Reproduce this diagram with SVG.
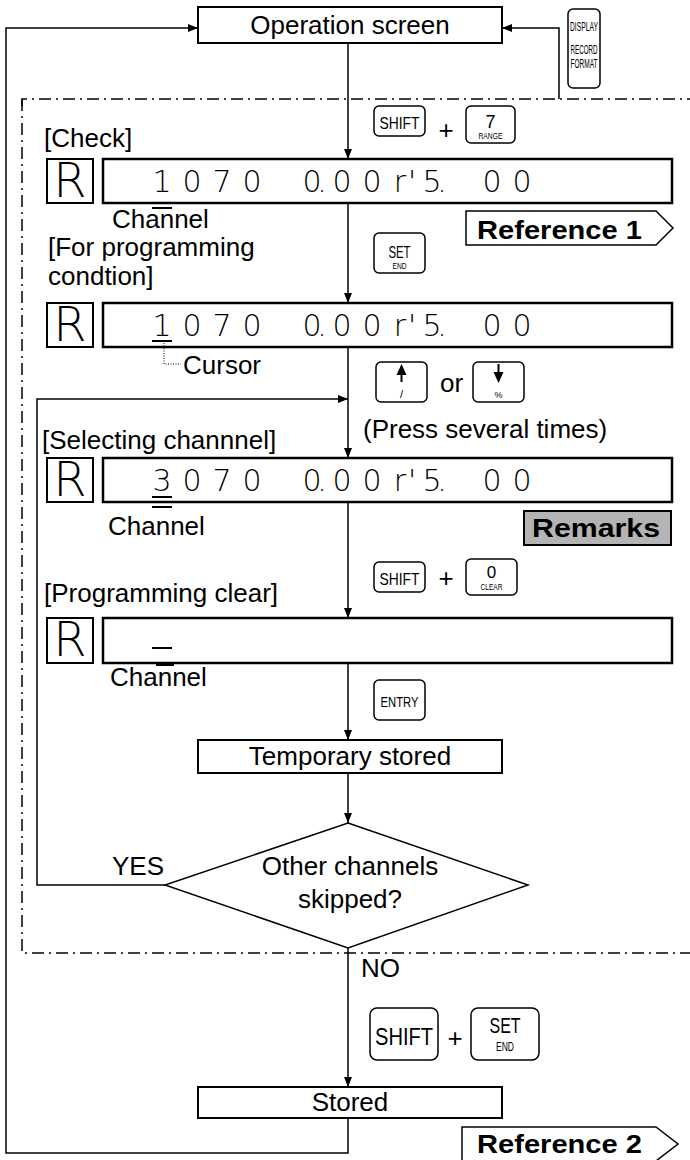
<svg xmlns="http://www.w3.org/2000/svg" width="690" height="1160" viewBox="0 0 690 1160">
<defs>
<marker id="ah" markerWidth="10" markerHeight="8" refX="10" refY="4" orient="auto" markerUnits="userSpaceOnUse"><path d="M0,0 L10,4 L0,8 z" fill="#000"/></marker>
<style>
.lbl{font-family:"Liberation Sans",Arial,sans-serif;font-size:26px;fill:#000}
.ctr{text-anchor:middle}
.box{fill:#fff;stroke:#000;stroke-width:2}
.disp{fill:#fff;stroke:#000;stroke-width:2.5}
.rbox{fill:#fff;stroke:#000;stroke-width:2}
.key{fill:#fff;stroke:#000;stroke-width:1.5}
.kt{font-family:"Liberation Sans",Arial,sans-serif;fill:#000;text-anchor:middle}
.seg{font-family:"DejaVu Sans",sans-serif;font-weight:200;font-size:30px;fill:#000;text-anchor:middle}
.rch{font-family:"DejaVu Sans",sans-serif;font-weight:200;font-size:48px;fill:#000;text-anchor:middle}
.ln{fill:none;stroke:#000;stroke-width:1.5}
.dd{fill:none;stroke:#000;stroke-width:1.5;stroke-dasharray:12 5 2 5}
.ref{fill:#fff;stroke:#000;stroke-width:1.5}
.bt{font-family:"Liberation Sans",Arial,sans-serif;font-weight:bold;font-size:25px;fill:#000}
.bar{stroke:#000;stroke-width:2}
.dot{fill:none;stroke:#000;stroke-width:1;stroke-dasharray:1 1.5}
</style>
</defs>
<rect width="690" height="1160" fill="#fff"/>

<g id="frame">
<path class="dd" d="M22,106 V99 H690"/>
<path class="dd" d="M22,99 V953 H690"/>
</g>

<g id="connectors">
<path class="ln" d="M348,43 V159" marker-end="url(#ah)"/>
<path class="ln" d="M348,203 V303" marker-end="url(#ah)"/>
<path class="ln" d="M348,347 V458" marker-end="url(#ah)"/>
<path class="ln" d="M348,502 V618" marker-end="url(#ah)"/>
<path class="ln" d="M348,663 V740" marker-end="url(#ah)"/>
<path class="ln" d="M348,773 V823" marker-end="url(#ah)"/>
<path class="ln" d="M348,948 V1087" marker-end="url(#ah)"/>
<path class="ln" d="M348,1118 V1153 H6 V28 H198" marker-end="url(#ah)"/>
<path class="ln" d="M165,885 H37 V399 H348" marker-end="url(#ah)"/>
<path class="ln" d="M559,99 V28 H502" marker-end="url(#ah)"/>
</g>

<g id="op-screen">
<rect class="box" x="198" y="7" width="304" height="36"/>
<text class="lbl ctr" x="350" y="34">Operation screen</text>
</g>

<g id="key-display">
<rect class="key" x="568" y="9" width="32" height="79" rx="5"/>
<text class="kt" x="584" y="31" font-size="13" textLength="28" lengthAdjust="spacingAndGlyphs">DISPLAY</text>
<text class="kt" x="584" y="54" font-size="13" textLength="27" lengthAdjust="spacingAndGlyphs">RECORD</text>
<text class="kt" x="584" y="68" font-size="13" textLength="27" lengthAdjust="spacingAndGlyphs">FORMAT</text>
</g>

<g id="check">
<text class="lbl" x="44" y="147">[Check]</text>
<rect class="key" x="374" y="106" width="51" height="30" rx="5"/>
<text class="kt" x="399.5" y="129" font-size="17" textLength="40" lengthAdjust="spacingAndGlyphs">SHIFT</text>
<text class="lbl ctr" x="446" y="139">+</text>
<rect class="key" x="466" y="106" width="49" height="37" rx="5"/>
<text class="kt" x="490.5" y="128" font-size="18">7</text>
<text class="kt" x="490.5" y="139" font-size="9" textLength="24" lengthAdjust="spacingAndGlyphs">RANGE</text>
<rect class="rbox" x="47" y="159" width="46" height="44"/>
<text class="rch" x="70" y="197">R</text>
<rect class="disp" x="103" y="159" width="569" height="44"/>
<text class="seg" x="162 192 222 252 282 312 322 342 372 400 412 432 442 462 492 522" y="192">1070 0.00r'5. 00</text>
<line class="bar" x1="152" y1="208" x2="172" y2="208"/>
<text class="lbl" x="112" y="228" font-size="25">Channel</text>
</g>

<g id="reference1">
<path class="ref" d="M466,211 H656 L673,228 L656,245 H466 Z"/>
<text class="bt" x="477" y="239" textLength="165" lengthAdjust="spacingAndGlyphs">Reference 1</text>
</g>

<g id="programming">
<text class="lbl" x="48" y="256" font-size="25">[For programming</text>
<text class="lbl" x="48" y="285" font-size="25">condtion]</text>
<rect class="key" x="374" y="233" width="51" height="40" rx="5"/>
<text class="kt" x="399.5" y="258" font-size="17" textLength="22" lengthAdjust="spacingAndGlyphs">SET</text>
<text class="kt" x="399.5" y="269" font-size="9" textLength="14" lengthAdjust="spacingAndGlyphs">END</text>
<rect class="rbox" x="47" y="303" width="46" height="44"/>
<text class="rch" x="70" y="341">R</text>
<rect class="disp" x="103" y="303" width="569" height="44"/>
<text class="seg" x="162 192 222 252 282 312 322 342 372 400 412 432 442 462 492 522" y="336">1070 0.00r'5. 00</text>
<line class="bar" x1="152" y1="341" x2="172" y2="341"/>
<path class="dot" d="M164,343 V364 H181"/>
<text class="lbl" x="183" y="374">Cursor</text>
</g>

<g id="updown">
<rect class="key" x="376" y="362" width="51" height="40" rx="5"/>
<path d="M401.5,364 L396.5,375 H406.5 Z" fill="#000"/>
<rect x="400.5" y="375" width="2" height="7" fill="#000"/>
<text class="kt" x="401.5" y="398" font-size="11">/</text>
<text class="lbl" x="440" y="392">or</text>
<rect class="key" x="473" y="362" width="51" height="40" rx="5"/>
<rect x="497.5" y="364" width="2" height="8" fill="#000"/>
<path d="M498.5,383 L493.5,372 H503.5 Z" fill="#000"/>
<text class="kt" x="498.5" y="398" font-size="9">%</text>
<text class="lbl" x="363" y="438">(Press several times)</text>
</g>

<g id="selecting">
<text class="lbl" x="42" y="449">[Selecting channnel]</text>
<rect class="rbox" x="47" y="458" width="46" height="44"/>
<text class="rch" x="70" y="496">R</text>
<rect class="disp" x="103" y="458" width="569" height="44"/>
<text class="seg" x="162 192 222 252 282 312 322 342 372 400 412 432 442 462 492 522" y="491">3070 0.00r'5. 00</text>
<line class="bar" x1="152" y1="497" x2="172" y2="497"/>
<line class="bar" x1="152" y1="507" x2="172" y2="507"/>
<text class="lbl" x="108" y="535">Channel</text>
</g>

<g id="remarks">
<rect x="524" y="511" width="147" height="34" fill="#b4b4b4" stroke="#000" stroke-width="2"/>
<text class="bt" x="532" y="537" textLength="128" lengthAdjust="spacingAndGlyphs">Remarks</text>
</g>

<g id="prog-clear">
<rect class="key" x="374" y="562" width="51" height="30" rx="5"/>
<text class="kt" x="399.5" y="585" font-size="17" textLength="40" lengthAdjust="spacingAndGlyphs">SHIFT</text>
<text class="lbl ctr" x="446" y="587">+</text>
<rect class="key" x="466" y="559" width="51" height="36" rx="5"/>
<text class="kt" x="491.5" y="578" font-size="17">0</text>
<text class="kt" x="491.5" y="590" font-size="8.5" textLength="22" lengthAdjust="spacingAndGlyphs">CLEAR</text>
<text class="lbl" x="44" y="602">[Programming clear]</text>
<rect class="rbox" x="47" y="618" width="46" height="45"/>
<text class="rch" x="70" y="656">R</text>
<rect class="disp" x="103" y="618" width="569" height="45"/>
<line class="bar" x1="152" y1="648" x2="172" y2="648"/>
<line class="bar" x1="156" y1="665" x2="174" y2="665"/>
<text class="lbl" x="110" y="686">Channel</text>
</g>

<g id="key-entry">
<rect class="key" x="374" y="680" width="51" height="40" rx="5"/>
<text class="kt" x="399.5" y="707" font-size="15" textLength="38" lengthAdjust="spacingAndGlyphs">ENTRY</text>
</g>

<g id="temp-stored">
<rect class="box" x="198" y="740" width="304" height="33"/>
<text class="lbl ctr" x="350" y="765">Temporary stored</text>
</g>

<g id="decision">
<path d="M348,823 L528,885 L348,948 L165,885 Z" fill="#fff" stroke="#000" stroke-width="1.5"/>
<text class="lbl ctr" x="350" y="875">Other channels</text>
<text class="lbl ctr" x="350" y="908">skipped?</text>
<text class="lbl" x="112" y="875">YES</text>
<text class="lbl" x="361" y="977">NO</text>
</g>

<g id="store-keys">
<rect class="key" x="370" y="1008" width="68" height="52" rx="7"/>
<text class="kt" x="404" y="1045" font-size="24" textLength="58" lengthAdjust="spacingAndGlyphs">SHIFT</text>
<text class="lbl ctr" x="455" y="1047">+</text>
<rect class="key" x="471" y="1008" width="68" height="52" rx="7"/>
<text class="kt" x="505" y="1033" font-size="22" textLength="31" lengthAdjust="spacingAndGlyphs">SET</text>
<text class="kt" x="505" y="1051" font-size="12" textLength="18" lengthAdjust="spacingAndGlyphs">END</text>
</g>

<g id="stored">
<rect class="box" x="198" y="1087" width="304" height="31"/>
<text class="lbl ctr" x="350" y="1111">Stored</text>
</g>

<g id="reference2">
<path class="ref" d="M462,1127 H656 L678,1144 L656,1161 H462 Z"/>
<text class="bt" x="477" y="1153" textLength="165" lengthAdjust="spacingAndGlyphs">Reference 2</text>
</g>
</svg>
